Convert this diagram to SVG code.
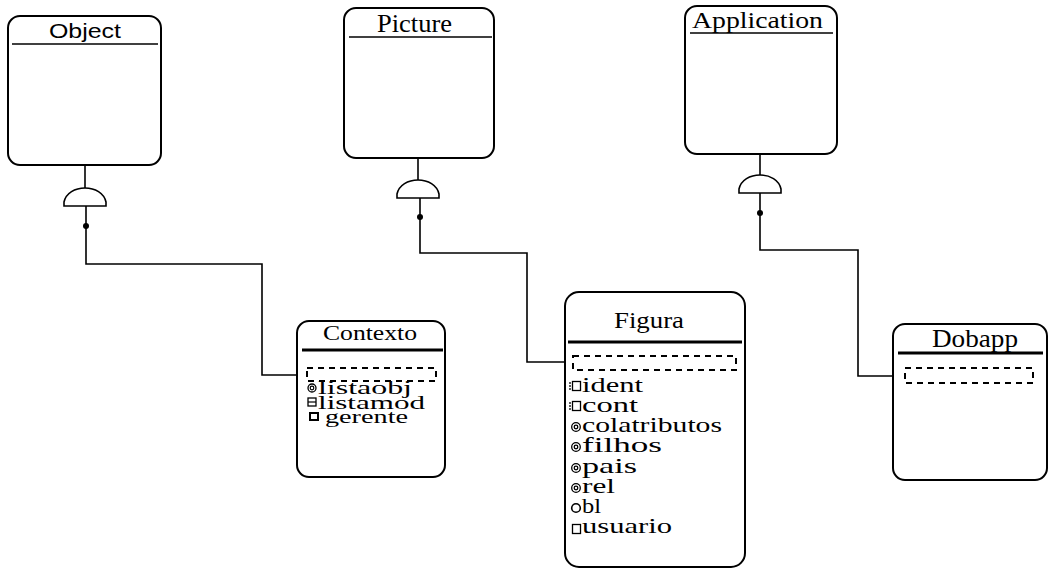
<svg xmlns="http://www.w3.org/2000/svg" width="1053" height="569" viewBox="0 0 1053 569">
<style>
.box{fill:#fff;stroke:#000;stroke-width:2}
.hl{stroke:#000;stroke-width:1.6}
.hlt{stroke:#000;stroke-width:3}
.dash{fill:none;stroke:#000;stroke-width:2;stroke-dasharray:6 5}
.ttl{font-family:"Liberation Serif","Times New Roman",serif;fill:#000}
.att{font-family:"Liberation Serif","Times New Roman",serif;fill:#000}
.conn{fill:none;stroke:#000;stroke-width:1.6}
.ico{fill:none;stroke:#000;stroke-width:1.3}
</style>
<defs>
<path id="dome" d="M -21 18 L -21 14 C -19 5 -10 0 0 0 C 10 0 19 5 21 14 L 21 18 Z" fill="#fff" stroke="#000" stroke-width="1.6"/>
</defs>
<rect width="1053" height="569" fill="#fff"/>

<g id="connectors">
<path class="conn" d="M85 165 V188"/>
<use href="#dome" x="85" y="188"/>
<path class="conn" d="M86 206 V264 H262 V375 H306"/>
<circle cx="86" cy="226" r="3"/>

<path class="conn" d="M418 158 V180"/>
<use href="#dome" x="418" y="180"/>
<path class="conn" d="M420 198 V253 H527 V362 H573"/>
<circle cx="420" cy="217" r="3"/>

<path class="conn" d="M760 154 V175"/>
<use href="#dome" x="760" y="175"/>
<path class="conn" d="M760 193 V250 H858 V376 H905"/>
<circle cx="760" cy="213" r="3"/>
</g>

<g id="Object">
<rect class="box" x="8" y="16" width="153" height="149" rx="12"/>
<line class="hl" x1="12" y1="44" x2="158" y2="44"/>
<text x="49" y="38" font-family="'Liberation Sans',Arial,sans-serif" font-size="21" textLength="72" lengthAdjust="spacingAndGlyphs">Object</text>
</g>

<g id="Picture">
<rect class="box" x="344" y="8" width="150" height="150" rx="12"/>
<line class="hl" x1="349" y1="37" x2="492" y2="37"/>
<text class="ttl" x="377" y="32" font-size="26" textLength="75" lengthAdjust="spacingAndGlyphs">Picture</text>
</g>

<g id="Application">
<rect class="box" x="685" y="6" width="152" height="148" rx="12"/>
<line class="hl" x1="690" y1="33" x2="833" y2="33"/>
<text class="ttl" x="692" y="28" font-size="23" textLength="131" lengthAdjust="spacingAndGlyphs">Application</text>
</g>

<g id="Contexto">
<rect class="box" x="297" y="321" width="148" height="156" rx="12"/>
<line class="hlt" x1="302" y1="350" x2="443" y2="350"/>
<text class="ttl" x="323" y="340" font-size="21" textLength="94" lengthAdjust="spacingAndGlyphs">Contexto</text>
<rect class="dash" x="307" y="368" width="129" height="13"/>
<circle class="ico" cx="312" cy="388" r="4"/>
<circle cx="312" cy="388" r="1.8" fill="none" stroke="#000" stroke-width="1.2"/>
<text class="att" x="318" y="394" font-size="19" textLength="94" lengthAdjust="spacingAndGlyphs">listaobj</text>
<rect class="ico" x="308" y="398" width="8" height="8"/>
<line x1="308" y1="402" x2="316" y2="402" stroke="#000" stroke-width="1.2"/>
<text class="att" x="318" y="409" font-size="19" textLength="107" lengthAdjust="spacingAndGlyphs">listamod</text>
<rect x="310" y="413" width="8" height="7" fill="none" stroke="#000" stroke-width="2"/>
<text class="att" x="325" y="423" font-size="19" textLength="83" lengthAdjust="spacingAndGlyphs">gerente</text>
</g>

<g id="Figura">
<rect class="box" x="565" y="292" width="180" height="275" rx="14"/>
<line class="hlt" x1="568" y1="342" x2="742" y2="342"/>
<text class="ttl" x="614" y="328" font-size="24" textLength="70" lengthAdjust="spacingAndGlyphs">Figura</text>
<rect class="dash" x="573" y="356" width="163" height="14"/>
<line x1="570" y1="382" x2="570" y2="391" stroke="#000" stroke-width="1.3" stroke-dasharray="2 1"/>
<rect class="ico" x="572.5" y="381.5" width="8" height="9"/>
<text class="att" x="582" y="392" font-size="21" textLength="61" lengthAdjust="spacingAndGlyphs">ident</text>
<line x1="570" y1="402" x2="570" y2="411" stroke="#000" stroke-width="1.3" stroke-dasharray="2 1"/>
<rect class="ico" x="572.5" y="401.5" width="8" height="9"/>
<text class="att" x="582" y="412" font-size="21" textLength="56" lengthAdjust="spacingAndGlyphs">cont</text>
<circle class="ico" cx="576" cy="427" r="4.3"/>
<circle class="ico" cx="576" cy="427" r="1.8"/>
<text class="att" x="582" y="432" font-size="21" textLength="140" lengthAdjust="spacingAndGlyphs">colatributos</text>
<circle class="ico" cx="576" cy="447" r="4.3"/>
<circle class="ico" cx="576" cy="447" r="1.8"/>
<text class="att" x="582" y="452" font-size="21" textLength="80" lengthAdjust="spacingAndGlyphs">filhos</text>
<circle class="ico" cx="576" cy="468" r="4.3"/>
<circle class="ico" cx="576" cy="468" r="1.8"/>
<text class="att" x="582" y="473" font-size="21" textLength="55" lengthAdjust="spacingAndGlyphs">pais</text>
<circle class="ico" cx="576" cy="488" r="4.3"/>
<circle class="ico" cx="576" cy="488" r="1.8"/>
<text class="att" x="582" y="493" font-size="21" textLength="33" lengthAdjust="spacingAndGlyphs">rel</text>
<circle cx="576" cy="508" r="4.3" fill="none" stroke="#000" stroke-width="1.6"/>
<text class="att" x="582" y="513" font-size="21" textLength="19" lengthAdjust="spacingAndGlyphs">bl</text>
<rect class="ico" x="572.5" y="524.5" width="8" height="9"/>
<text class="att" x="582" y="533" font-size="21" textLength="90" lengthAdjust="spacingAndGlyphs">usuario</text>
</g>

<g id="Dobapp">
<rect class="box" x="893" y="324" width="154" height="156" rx="12"/>
<line class="hlt" x1="898" y1="353" x2="1043" y2="353"/>
<text class="ttl" x="932" y="347" font-size="25" textLength="86" lengthAdjust="spacingAndGlyphs">Dobapp</text>
<rect class="dash" x="905" y="368" width="128" height="15"/>
</g>
</svg>
